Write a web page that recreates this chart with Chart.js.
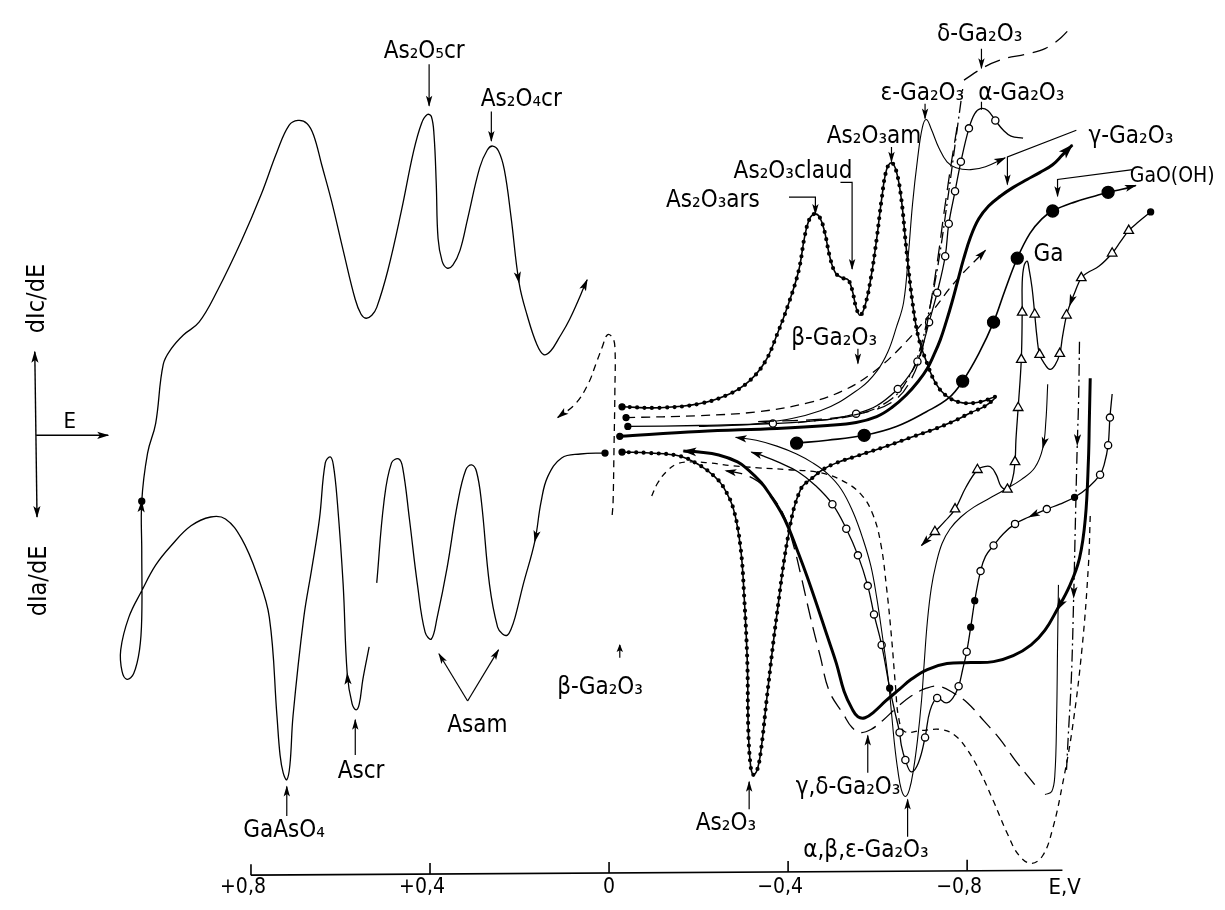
<!DOCTYPE html>
<html><head><meta charset="utf-8">
<script src="https://cdn.jsdelivr.net/npm/chart.js@4/dist/chart.umd.min.js"></script>
<style>html,body{margin:0;padding:0;background:#fff}#wrap{width:1225px;height:910px}</style>
</head><body><div id="wrap"><canvas id="c" width="1225" height="910"></canvas></div>
<script>
// ---------- axis ----------
const tickValues = [0.8, 0.4, 0, -0.4, -0.8];
const tickLabels = ['+0,8', '+0,4', '0', '\u22120,4', '\u22120,8'];
const axisUnit = 'E,V';

// ---------- series: [E (V), dI/dE (arb. units)] ----------
const asAnodic = [[0.009,-1.8],[0.064,-1.9],[0.106,-2.3],[0.137,-4.2],[0.152,-6.8],[0.166,-10.8],[0.192,-15.2],[0.210,-18.5],[0.219,-19.7],[0.227,-20.3],[0.238,-20.2],[0.249,-19.5],[0.267,-15.2],[0.285,-6.8],[0.296,-3.7],[0.307,-3.0],[0.320,-3.5],[0.338,-6.8],[0.362,-13.5],[0.384,-18.5],[0.397,-20.7],[0.411,-20.0],[0.428,-15.2],[0.446,-8.5],[0.461,-3.3],[0.470,-2.4],[0.486,-2.8],[0.503,-6.8],[0.519,-15.0]];
const asCycle = [[0.536,-21.5],[0.550,-24.8],[0.558,-27.3],[0.565,-27.9],[0.574,-27.3],[0.585,-24.2],[0.594,-15.2],[0.607,-6.8],[0.616,-3.0],[0.623,-2.2],[0.634,-2.8],[0.647,-8.5],[0.664,-13.5],[0.682,-18.5],[0.706,-28.5],[0.713,-33.5],[0.720,-35.0],[0.728,-34.3],[0.735,-32.5],[0.742,-28.5],[0.759,-18.5],[0.786,-14.2],[0.821,-10.5],[0.857,-8.5],[0.890,-8.3],[0.934,-9.2],[0.978,-11.2],[1.013,-13.2],[1.044,-15.8],[1.073,-18.5],[1.091,-21.8],[1.088,-24.0],[1.077,-24.8],[1.062,-24.2],[1.049,-21.8],[1.044,-18.5],[1.044,-11.8],[1.044,-6.7],[1.031,-1.8],[1.013,1.2],[0.996,7.2],[0.978,8.8],[0.951,10.2],[0.916,11.5],[0.874,14.8],[0.821,19.8],[0.777,24.5],[0.742,28.8],[0.715,31.5],[0.695,32.0],[0.675,31.7],[0.660,30.5],[0.642,27.5],[0.620,23.8],[0.594,18.8],[0.567,13.8],[0.554,12.3],[0.543,11.9],[0.530,12.2],[0.519,13.0],[0.494,16.8],[0.464,22.8],[0.437,28.8],[0.419,31.7],[0.406,32.6],[0.397,32.4],[0.391,30.5],[0.386,25.5],[0.382,20.0],[0.373,17.7],[0.362,17.0],[0.349,17.3],[0.333,18.8],[0.316,22.0],[0.289,27.2],[0.272,29.0],[0.260,29.4],[0.247,28.9],[0.234,27.0],[0.219,22.2],[0.201,15.5],[0.183,12.2],[0.161,9.2],[0.146,8.2],[0.130,8.6],[0.113,9.8],[0.088,11.8],[0.049,15.8]];
const betaLeft = [[-0.007,-8.1],[-0.009,-6.8],[-0.011,-1.5],[-0.013,4.5],[-0.013,9.0],[-0.007,10.0],[0.004,10.2],[0.015,9.0],[0.029,7.3],[0.046,5.3],[0.075,3.2],[0.115,1.8]];

const as2o3Loop = [[-0.029,2.9],[-0.113,2.8],[-0.201,3.2],[-0.269,4.2],[-0.313,5.5],[-0.349,7.5],[-0.375,10.2],[-0.402,13.5],[-0.424,16.8],[-0.437,20.2],[-0.448,22.0],[-0.459,22.5],[-0.470,22.2],[-0.481,20.8],[-0.494,18.0],[-0.506,16.5],[-0.521,16.0],[-0.534,15.8],[-0.543,14.8],[-0.552,13.0],[-0.561,12.2],[-0.572,13.2],[-0.585,16.0],[-0.598,20.0],[-0.609,24.0],[-0.620,27.0],[-0.631,27.7],[-0.642,26.8],[-0.653,24.0],[-0.664,19.0],[-0.678,13.5],[-0.691,10.0],[-0.709,7.5],[-0.731,5.2],[-0.757,3.9],[-0.790,3.3],[-0.830,3.4],[-0.863,3.9],[-0.841,3.0],[-0.808,2.3],[-0.773,1.5],[-0.731,0.7],[-0.675,-0.2],[-0.620,-1.1],[-0.554,-2.1],[-0.508,-2.8],[-0.477,-3.5],[-0.455,-4.3],[-0.428,-5.5],[-0.402,-9.8],[-0.375,-18.2],[-0.353,-26.5],[-0.340,-31.8],[-0.331,-34.0],[-0.322,-34.5],[-0.316,-33.5],[-0.311,-29.8],[-0.309,-23.2],[-0.302,-16.5],[-0.294,-11.5],[-0.278,-7.5],[-0.256,-5.3],[-0.236,-4.2],[-0.201,-3.0],[-0.157,-2.1],[-0.091,-1.8],[-0.029,-1.7]];
const betaUpper = [[-0.038,1.8],[-0.201,2.0],[-0.333,2.4],[-0.444,3.3],[-0.521,4.5],[-0.587,6.3],[-0.653,9.0],[-0.720,12.5],[-0.775,15.7],[-0.841,18.8]];
const longDashUpper = [[-0.333,1.4],[-0.488,1.7],[-0.587,2.5],[-0.642,3.7],[-0.675,5.7],[-0.698,8.5],[-0.715,12.5],[-0.733,17.5],[-0.748,22.5],[-0.764,27.5],[-0.779,31.7]];
const alphaUpper = [[-0.042,0.9],[-0.201,1.0],[-0.366,1.2],[-0.488,1.6],[-0.552,2.2],[-0.598,3.0],[-0.645,4.7],[-0.669,6.0],[-0.689,7.5],[-0.702,9.3],[-0.715,11.5],[-0.733,14.5],[-0.751,18.2],[-0.759,21.5],[-0.773,24.8],[-0.786,27.8],[-0.804,31.2],[-0.817,32.7],[-0.830,33.2],[-0.846,33.0],[-0.863,32.0],[-0.881,31.0],[-0.898,30.4],[-0.925,30.2]];
const epsUpper = [[-0.201,0.9],[-0.333,1.2],[-0.472,2.5],[-0.561,4.8],[-0.598,6.5],[-0.623,8.5],[-0.642,11.0],[-0.658,13.5],[-0.669,18.5],[-0.678,23.5],[-0.689,28.0],[-0.700,31.3],[-0.709,32.1],[-0.720,31.1],[-0.737,29.2],[-0.755,27.8],[-0.775,27.2],[-0.808,27.0],[-0.841,27.3],[-0.885,28.2]];
const deltaUpper = [[-0.422,1.3],[-0.554,2.1],[-0.631,3.7],[-0.671,6.0],[-0.695,8.8],[-0.711,11.8],[-0.733,16.8],[-0.755,23.5],[-0.775,30.2],[-0.790,35.2]];
const deltaTop = [[-0.793,36.1],[-0.841,37.5],[-0.885,38.3],[-0.929,38.7],[-0.974,39.3],[-1.007,40.3],[-1.033,41.5]];
const gammaUpper = [[-0.024,-0.1],[-0.201,0.4],[-0.375,0.7],[-0.488,1.0],[-0.552,1.3],[-0.598,1.9],[-0.631,2.8],[-0.664,4.1],[-0.691,5.5],[-0.711,6.8],[-0.726,8.2],[-0.740,9.7],[-0.753,11.5],[-0.766,13.5],[-0.779,15.7],[-0.792,17.9],[-0.808,20.2],[-0.826,22.0],[-0.848,23.3],[-0.874,24.3],[-0.903,25.2],[-0.934,26.0],[-0.962,26.7],[-0.991,27.5],[-1.013,28.5],[-1.035,29.5]];
const gaoohUpper = [[-0.419,-0.8],[-0.488,-0.5],[-0.570,0.0],[-0.642,0.9],[-0.709,2.4],[-0.759,3.8],[-0.790,5.5],[-0.826,8.3],[-0.859,11.5],[-0.885,14.8],[-0.912,18.0],[-0.940,20.5],[-0.967,22.0],[-0.991,22.8],[-1.040,23.7],[-1.084,24.3],[-1.115,24.7],[-1.146,25.0],[-1.177,25.4]];
const gaCurve = [[-1.210,22.7],[-1.183,21.7],[-1.161,20.8],[-1.143,19.7],[-1.124,18.5],[-1.095,17.2],[-1.068,16.5],[-1.055,16.0],[-1.042,14.7],[-1.029,13.2],[-1.022,12.2],[-1.013,10.0],[-1.007,8.3],[-0.996,7.1],[-0.985,6.7],[-0.974,7.2],[-0.962,8.2],[-0.956,10.0],[-0.951,12.3],[-0.945,15.0],[-0.938,17.0],[-0.934,17.7],[-0.927,17.2],[-0.923,15.5],[-0.923,12.5],[-0.921,7.7],[-0.914,2.8],[-0.909,-0.5],[-0.907,-2.7],[-0.901,-4.5],[-0.890,-5.5],[-0.876,-5.2],[-0.865,-4.0],[-0.852,-3.2],[-0.837,-3.2],[-0.823,-3.5],[-0.797,-5.3],[-0.773,-7.5],[-0.751,-8.7],[-0.728,-9.8],[-0.698,-11.2]];
const gammaLower = [[-1.075,5.8],[-1.073,1.5],[-1.071,-2.5],[-1.064,-8.5],[-1.051,-12.5],[-1.029,-15.3],[-1.000,-17.8],[-0.974,-19.8],[-0.943,-21.3],[-0.903,-22.4],[-0.859,-23.0],[-0.808,-23.1],[-0.755,-23.2],[-0.711,-23.8],[-0.675,-24.8],[-0.649,-25.8],[-0.618,-27.0],[-0.592,-28.1],[-0.572,-28.7],[-0.556,-28.6],[-0.543,-27.8],[-0.525,-26.0],[-0.508,-23.2],[-0.486,-20.2],[-0.464,-17.2],[-0.442,-14.3],[-0.419,-11.5],[-0.402,-9.5],[-0.384,-7.8],[-0.362,-6.2],[-0.340,-4.8],[-0.311,-3.5],[-0.287,-2.7],[-0.245,-2.0],[-0.201,-1.7],[-0.166,-1.6]];
const thinLower = [[-0.980,5.2],[-0.976,1.5],[-0.969,-1.3],[-0.951,-3.3],[-0.921,-4.5],[-0.885,-5.5],[-0.850,-6.4],[-0.815,-7.3],[-0.786,-8.3],[-0.762,-9.5],[-0.744,-11.0],[-0.731,-13.0],[-0.720,-15.5],[-0.711,-19.0],[-0.704,-23.2],[-0.698,-27.0],[-0.689,-31.0],[-0.680,-34.0],[-0.671,-36.0],[-0.662,-36.7],[-0.653,-36.0],[-0.645,-34.0],[-0.638,-31.5],[-0.631,-28.2],[-0.623,-24.5],[-0.611,-20.5],[-0.598,-16.5],[-0.585,-13.3],[-0.567,-10.5],[-0.545,-7.8],[-0.519,-5.5],[-0.488,-3.9],[-0.455,-2.8],[-0.419,-1.9],[-0.375,-1.1],[-0.329,-0.5],[-0.283,-0.2]];
const alphaLower = [[-1.124,4.2],[-1.119,1.8],[-1.115,-1.0],[-1.106,-3.0],[-1.097,-4.0],[-1.073,-5.2],[-1.040,-6.3],[-1.007,-7.0],[-0.978,-7.5],[-0.938,-8.3],[-0.907,-9.0],[-0.881,-10.0],[-0.859,-11.2],[-0.841,-12.3],[-0.830,-13.8],[-0.817,-16.8],[-0.808,-19.5],[-0.799,-22.0],[-0.790,-23.8],[-0.781,-25.5],[-0.768,-26.7],[-0.753,-27.2],[-0.733,-26.7],[-0.717,-28.0],[-0.706,-30.7],[-0.691,-33.3],[-0.675,-34.2],[-0.662,-33.0],[-0.653,-31.5],[-0.649,-30.2],[-0.638,-28.0],[-0.627,-25.7],[-0.609,-21.3],[-0.592,-18.2],[-0.578,-15.3],[-0.556,-12.2],[-0.530,-9.5],[-0.499,-7.0],[-0.461,-5.1],[-0.422,-3.7],[-0.377,-2.7],[-0.344,-2.1],[-0.318,-1.7]];
const shortDashLower = [[-1.075,-8.2],[-1.071,-13.2],[-1.057,-21.5],[-1.035,-29.8],[-1.013,-35.5],[-0.991,-40.0],[-0.969,-42.7],[-0.943,-43.5],[-0.916,-42.7],[-0.890,-40.5],[-0.859,-37.2],[-0.830,-34.3],[-0.801,-32.0],[-0.773,-30.5],[-0.742,-29.9],[-0.698,-30.0],[-0.660,-30.1],[-0.647,-28.7],[-0.640,-25.5],[-0.631,-20.5],[-0.620,-15.5],[-0.607,-11.0],[-0.589,-8.0],[-0.563,-6.0],[-0.521,-4.6],[-0.472,-3.8],[-0.402,-3.5],[-0.333,-3.3],[-0.278,-3.1],[-0.223,-2.8],[-0.183,-2.7],[-0.152,-2.9],[-0.128,-3.7],[-0.108,-4.9],[-0.095,-6.2]];
const longDashLower = [[-0.951,-35.5],[-0.907,-33.0],[-0.872,-30.8],[-0.837,-29.0],[-0.801,-27.2],[-0.770,-26.2],[-0.737,-25.5],[-0.709,-25.7],[-0.675,-26.5],[-0.642,-27.7],[-0.611,-29.0],[-0.585,-29.9],[-0.563,-30.2],[-0.543,-29.7],[-0.523,-28.3],[-0.492,-26.0],[-0.472,-22.5],[-0.450,-18.5],[-0.430,-14.5],[-0.411,-11.0],[-0.389,-8.0],[-0.360,-6.0],[-0.333,-4.7],[-0.296,-3.9],[-0.260,-3.6]];
const dashDotLower = [[-1.051,9.5],[-1.049,3.5],[-1.046,-1.0],[-1.042,-8.5],[-1.038,-16.5],[-1.033,-24.5],[-1.026,-30.5],[-1.022,-34.0]];
const hookLower = [[-1.004,-15.2],[-1.002,-21.5],[-1.000,-28.5],[-0.996,-34.5],[-0.989,-36.2],[-0.974,-36.5]];

// label texts and anchor points (E, y)
const labelTexts = ['As\u2082O\u2085cr','As\u2082O\u2084cr','GaAsO\u2084','Ascr','Asam','\u03b2-Ga\u2082O\u2083','As\u2082O\u2083','\u03b3,\u03b4-Ga\u2082O\u2083','\u03b1,\u03b2,\u03b5-Ga\u2082O\u2083','\u03b4-Ga\u2082O\u2083','\u03b5-Ga\u2082O\u2083','\u03b1-Ga\u2082O\u2083','As\u2082O\u2083am','As\u2082O\u2083claud','As\u2082O\u2083ars','\u03b3-Ga\u2082O\u2083','GaO(OH)','Ga','\u03b2-Ga\u2082O\u2083'];
const labelAt = [[0.413,39.0],[0.196,34.1],[0.726,-40.2],[0.554,-34.2],[0.294,-29.5],[0.020,-25.7],[-0.261,-39.5],[-0.534,-35.8],[-0.574,-42.2],[-0.828,40.7],[-0.700,34.7],[-0.921,34.7],[-0.592,30.3],[-0.411,26.8],[-0.232,23.8],[-1.166,30.3],[-1.353,26.3],[-0.982,18.3],[-0.503,9.8]];
const leaders = [
  [[0.402,37.7],[0.402,33.5]], [[0.263,32.9],[0.263,29.9]], [[0.720,-38.7],[0.720,-35.7]],
  [[0.567,-32.5],[0.567,-28.9]], [[0.316,-27.0],[0.380,-22.2]], [[0.316,-27.0],[0.247,-21.8]],
  [[-0.313,-38.0],[-0.313,-35.2]], [[-0.578,-34.3],[-0.578,-30.5]], [[-0.667,-40.8],[-0.667,-37.0]],
  [[-0.832,39.3],[-0.832,37.3]], [[-0.706,33.7],[-0.706,32.2]], [[-0.631,29.3],[-0.631,27.8]],
  [[-0.517,25.7],[-0.543,25.7],[-0.543,16.9]], [[-0.402,24.2],[-0.461,24.2],[-0.461,22.5]],
  [[-1.044,31.0],[-0.890,28.3],[-0.890,25.5]], [[-1.170,27.0],[-1.002,26.0],[-1.002,24.3]],
  [[-0.556,8.8],[-0.556,7.3]], [[-0.024,-22.6],[-0.024,-21.3]]
];
const alphaTick = [[-0.832,33.9],[-0.832,33.1]];
const crossV = [[1.283,8.5],[1.278,-8.3]];
const crossH = [[1.280,0],[1.119,0]];

// ---------- helpers ----------
const P = a => a.map(([x, y]) => ({x, y}));
function marks(spec) {
  const kind = i => { for (const k in spec) if (spec[k].includes(i)) return k; return null; };
  const R = {open: 3.6, dot: 3, big: 6, tri: 5.5};
  return {
    pointRadius: c => R[kind(c.dataIndex)] || 0,
    pointStyle: c => kind(c.dataIndex) === 'tri' ? 'triangle' : 'circle',
    pointBackgroundColor: c => ['dot','big'].includes(kind(c.dataIndex)) ? '#000' : '#fff',
    pointBorderColor: '#000', pointBorderWidth: 1.3
  };
}
function line(data, opts) {
  return Object.assign({data: P(data), showLine: true, borderColor: '#000', borderWidth: 1.3,
    tension: 0.4, pointRadius: 0, fill: false}, opts || {});
}
const DOTS = {borderDash: [0, 7.5], borderWidth: 4.2, borderCapStyle: 'round'};

const datasets = [
  line(asAnodic, Object.assign({arrowIdx: [5]}, marks({dot: [0]}))),
  line(asCycle, Object.assign({arrowIdx: [5, 37, 80, 87]}, marks({dot: [37]}))),
  line(betaLeft, {borderDash: [7, 5], arrowIdx: [11]}),
  line(as2o3Loop, Object.assign({borderWidth: 1.6}, marks({dot: [0, as2o3Loop.length - 1]}))),
  line(as2o3Loop, DOTS),
  line(betaUpper, Object.assign({borderDash: [9, 6], arrowIdx: [9]}, marks({dot: [0]}))),
  line(longDashUpper, {borderDash: [16, 8]}),
  line(alphaUpper, marks({dot: [0], open: [2,4,6,8,10,11,12,13,14,15,16,20]})),
  line(epsUpper, {borderWidth: 1.1, arrowIdx: [19]}),
  line(deltaUpper, {borderDash: [12, 4, 2, 4]}),
  line(deltaTop, {borderDash: [16, 9], tension: 0.3}),
  line(gammaUpper, Object.assign({borderWidth: 3, arrowIdx: [25], arrowLen: 14, arrowW: 5}, marks({dot: [0]}))),
  line(gaoohUpper, Object.assign({borderWidth: 1.6, arrowIdx: [18]}, marks({big: [0,2,6,8,10,13,16]}))),
  line(gaCurve, Object.assign({arrowIdx: [9, 40]}, marks({dot: [0], tri: [2,4,7,10,12,16,18,24,25,26,28,30,35,37,39]}))),
  line(gammaLower, {borderWidth: 3, arrowIdx: [6, 35], arrowLen: 13, arrowW: 4.5}),
  line(thinLower, {borderWidth: 1.1, arrowIdx: [2, 36]}),
  line(alphaLower, Object.assign({arrowIdx: [9, 42]}, marks({open: [1,2,4,8,10,12,14,17,19,22,24,27,29,32,33,34,35,36,37], dot: [6,15,16,31]}))),
  line(shortDashLower, {borderDash: [6, 5]}),
  line(longDashLower, {borderDash: [16, 8], arrowIdx: [24]}),
  line(dashDotLower, {borderDash: [12, 4, 2, 4], arrowIdx: [2, 4]}),
  line(hookLower, {borderWidth: 1.1}),
  line(alphaTick, {borderWidth: 1.2, tension: 0}),
  line(crossV, {borderWidth: 1.4, tension: 0, arrowIdx: [0, 1]}),
  line(crossH, {borderWidth: 1.4, tension: 0, arrowIdx: [1]})
];
leaders.forEach((l, i) => datasets.push(line(l, {borderWidth: 1.2, tension: 0, arrowIdx: [l.length - 1],
  arrowLen: i === leaders.length - 1 ? 7 : 10, arrowW: 3.2})));

const FONT = "'DejaVu Sans Condensed', 'Liberation Sans Narrow', 'DejaVu Sans', sans-serif";

const arrowPlugin = {
  id: 'arrows',
  afterDatasetsDraw(chart) {
    const ctx = chart.ctx;
    chart.data.datasets.forEach((ds, i) => {
      if (!ds.arrowIdx) return;
      const pts = chart.getDatasetMeta(i).data;
      ds.arrowIdx.forEach(k => {
        const p = pts[k]; if (!p) return;
        let dx, dy;
        if (k > 0) {
          let qx = p.cp1x, qy = p.cp1y;
          if (qx === undefined || Math.hypot(p.x - qx, p.y - qy) < 1.5) { qx = pts[k - 1].x; qy = pts[k - 1].y; }
          dx = p.x - qx; dy = p.y - qy;
        } else { const q = pts[1]; dx = p.x - q.x; dy = p.y - q.y; }
        const a = Math.atan2(dy, dx), L = ds.arrowLen || 11, W = ds.arrowW || 3.6;
        ctx.save(); ctx.translate(p.x, p.y); ctx.rotate(a);
        ctx.beginPath(); ctx.moveTo(1, 0); ctx.lineTo(-L, W); ctx.lineTo(-L * 0.75, 0); ctx.lineTo(-L, -W); ctx.closePath();
        ctx.fillStyle = '#000'; ctx.fill(); ctx.restore();
      });
    });
  }
};

const textPlugin = {
  id: 'texts',
  afterDraw(chart) {
    const ctx = chart.ctx, xs = chart.scales.x, ys = chart.scales.y;
    const X = v => xs.getPixelForValue(v), Y = v => ys.getPixelForValue(v);
    ctx.save(); ctx.fillStyle = '#000'; ctx.strokeStyle = '#000';
    ctx.textBaseline = 'middle';
    labelTexts.forEach((t, i) => {
      const isG = t === 'GaO(OH)';
      ctx.font = (isG ? '21px ' : '24px ') + FONT;
      ctx.textAlign = isG ? 'right' : 'center';
      ctx.fillText(t, X(labelAt[i][0]), Y(labelAt[i][1]));
    });
    ctx.textAlign = 'center';
    ctx.font = '22px ' + FONT;
    ctx.fillText('E', X(1.205), Y(1.3));
    ctx.font = '25px ' + FONT;
    [['dIc/dE', 1.278, 13.9], ['dIa/dE', 1.272, -14.8]].forEach(([t, x, y]) => {
      ctx.save(); ctx.translate(X(x), Y(y)); ctx.rotate(-Math.PI / 2); ctx.fillText(t, 0, 0); ctx.restore();
    });
    // potential axis
    const a0 = 0.8, a1 = -1.013, y0 = -44.7, y1 = -44.2;
    const yAt = v => Y(y0 + (y1 - y0) * (a0 - v) / (a0 - a1));
    ctx.lineWidth = 1.6;
    ctx.beginPath(); ctx.moveTo(X(a0), yAt(a0)); ctx.lineTo(X(a1), yAt(a1)); ctx.stroke();
    ctx.font = '21px ' + FONT;
    tickValues.forEach((v, i) => {
      ctx.beginPath(); ctx.moveTo(X(v), yAt(v)); ctx.lineTo(X(v), yAt(v) - 11); ctx.stroke();
      const off = tickLabels[i].length > 1 ? -8 : 0;
      ctx.fillText(tickLabels[i], X(v) + off, Y(-46.0));
    });
    ctx.font = '22px ' + FONT;
    ctx.fillText(axisUnit, X(-1.018), Y(-46.0));
    ctx.restore();
  }
};

new Chart(document.getElementById('c'), {
  type: 'scatter',
  data: {datasets},
  options: {
    responsive: false, animation: false, events: [],
    layout: {padding: 0},
    plugins: {legend: {display: false}, tooltip: {enabled: false}},
    scales: {
      x: {type: 'linear', reverse: true, min: -1.3598, max: 1.3444, display: false},
      y: {type: 'linear', min: -47.5, max: 43.5, display: false}
    }
  },
  plugins: [arrowPlugin, textPlugin]
});
</script></body></html>
